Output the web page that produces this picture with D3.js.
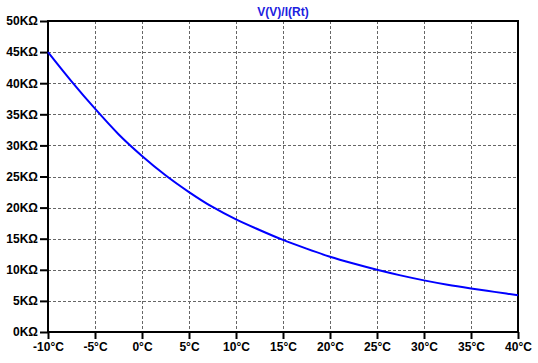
<!DOCTYPE html>
<html>
<head>
<meta charset="utf-8">
<script src="https://cdn.jsdelivr.net/npm/d3@7"></script>
<style>
  body { margin: 0; background: #fff; }
  text { font-family: "Liberation Sans", Arial, sans-serif; font-weight: bold; font-size: 12px; }
</style>
</head>
<body>
<div id="chart"></div>
<script>
// temperature (°C) and resistance (KΩ)
var temps = [-10, -7.5, -5, -2.5, 0, 2.5, 5, 7.5, 10, 12.5, 15, 17.5, 20, 22.5, 25, 27.5, 30, 32.5, 35, 37.5, 40];
var resK  = [45.0, 40.3, 35.9, 31.8, 28.3, 25.2, 22.5, 20.1, 18.1, 16.4, 14.8, 13.4, 12.1, 11.0, 10.0, 9.1, 8.3, 7.6, 7.0, 6.45, 5.9];

var xTicks = [-10, -5, 0, 5, 10, 15, 20, 25, 30, 35, 40];
var yTicks = [0, 5, 10, 15, 20, 25, 30, 35, 40, 45, 50];
var title = "V(V)/I(Rt)";

// set the dimensions and margins of the graph
var margin = {top: 21, right: 20, bottom: 31, left: 48},
    width = 538 - margin.left - margin.right,
    height = 363 - margin.top - margin.bottom;

var svg = d3.select("#chart")
  .append("svg")
    .attr("width", 538)
    .attr("height", 363)
  .append("g")
    .attr("transform", "translate(" + margin.left + "," + margin.top + ")");

var x = d3.scaleLinear().domain([-10, 40]).range([0, width]);
var y = d3.scaleLinear().domain([0, 50]).range([height, 0]);

// dashed grid
svg.selectAll(".vgrid")
  .data(xTicks.slice(1, -1))
  .enter().append("line")
    .attr("x1", function(d) { return Math.round(x(d)) + 0.5 })
    .attr("x2", function(d) { return Math.round(x(d)) + 0.5 })
    .attr("y1", 0).attr("y2", height)
    .attr("stroke", "#666").attr("stroke-dasharray", "3,2");

svg.selectAll(".hgrid")
  .data(yTicks.slice(1, -1))
  .enter().append("line")
    .attr("y1", function(d) { return Math.round(y(d)) + 0.5 })
    .attr("y2", function(d) { return Math.round(y(d)) + 0.5 })
    .attr("x1", 0).attr("x2", width)
    .attr("stroke", "#666").attr("stroke-dasharray", "3,2");

// axes
var xAxis = svg.append("g")
  .attr("transform", "translate(0," + height + ")")
  .call(d3.axisBottom(x).tickValues(xTicks).tickSize(7).tickPadding(3)
    .tickFormat(function(d) { return d + "°C" }));

var yAxis = svg.append("g")
  .call(d3.axisLeft(y).tickValues(yTicks).tickSize(8).tickPadding(2)
    .tickFormat(function(d) { return d + "KΩ" }));

[xAxis, yAxis].forEach(function(a) {
  a.select(".domain").remove();
  a.selectAll("line").attr("stroke", "#000").attr("stroke-width", 2);
  a.selectAll("text").attr("fill", "#000").style("font-size", "12px");
});

// frame
svg.append("rect")
  .attr("x", 0).attr("y", 0)
  .attr("width", width).attr("height", height)
  .attr("fill", "none")
  .attr("stroke", "#000")
  .attr("stroke-width", 2);

// the curve
var data = temps.map(function(t, i) { return {t: t, r: resK[i]} });
svg.append("path")
  .datum(data)
  .attr("fill", "none")
  .attr("stroke", "#0000ff")
  .attr("stroke-width", 2)
  .attr("d", d3.line()
    .curve(d3.curveMonotoneX)
    .x(function(d) { return x(d.t) })
    .y(function(d) { return y(d.r) }));

// title
svg.append("text")
  .attr("x", width / 2)
  .attr("y", -5)
  .attr("text-anchor", "middle")
  .attr("fill", "#2020e0")
  .text(title);
</script>
</body>
</html>
